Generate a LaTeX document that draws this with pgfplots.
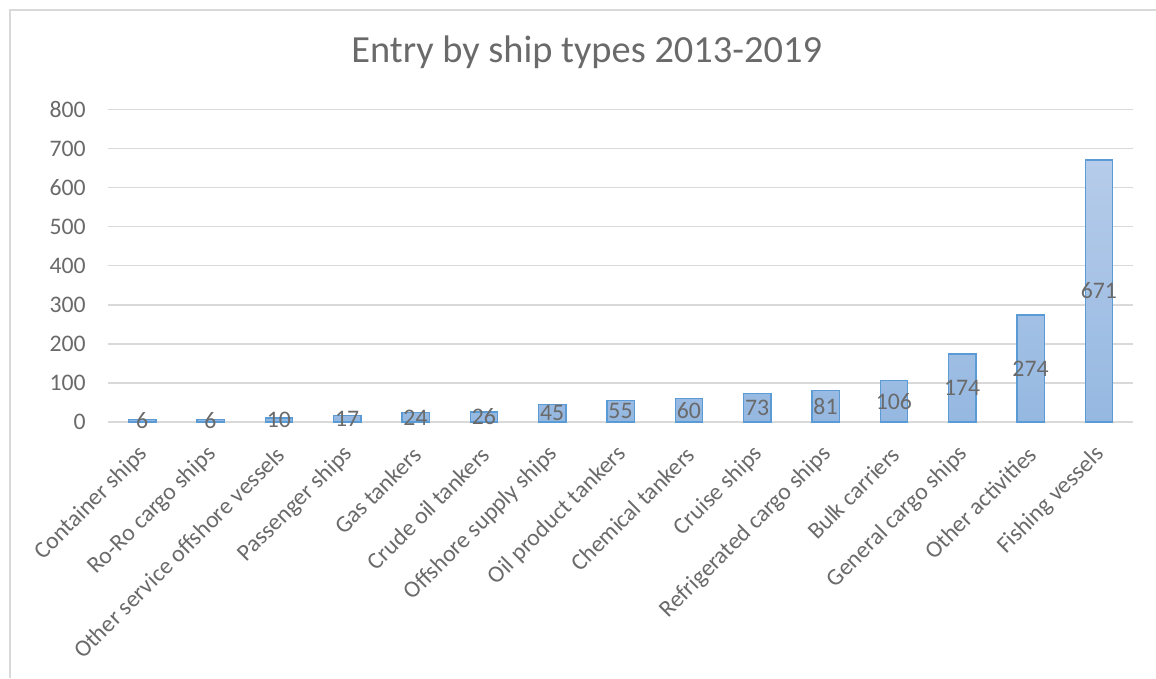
\documentclass[border=0pt]{standalone}
\usepackage{pgfplots}
\pgfplotsset{compat=1.18}
\usepackage{fontspec}
\setmainfont{Carlito}
\definecolor{txtgray}{HTML}{6A6A6A}
\definecolor{gridgray}{HTML}{D9D9D9}
\definecolor{barborder}{HTML}{5B9BD5}
\definecolor{bartop}{RGB}{182,204,234}
\definecolor{barbot}{RGB}{149,184,225}
\begin{document}
\begin{tikzpicture}
\useasboundingbox (0,0) rectangle (867pt,508.5pt);
\draw[gridgray, line width=1.1pt] (7.5pt,0) -- (7.5pt,501pt) -- (870pt,501pt);
\node[anchor=base, text=txtgray, font=\fontsize{28.8}{34}\selectfont, inner sep=0pt] at (440pt,461.25pt) {Entry by ship types 2013-2019};
\begin{axis}[
  at={(81pt,192pt)}, anchor=south west,
  scale only axis, width=768.75pt, height=234.4pt,
  xmin=-0.5, xmax=14.5, ymin=0, ymax=800,
  ytick={0,100,...,800},
  xtick={0,...,14},
  xticklabels={Container ships,Ro-Ro cargo ships,Other service offshore vessels,Passenger ships,Gas tankers,Crude oil tankers,Offshore supply ships,Oil product tankers,Chemical tankers,Cruise ships,Refrigerated cargo ships,Bulk carriers,General cargo ships,Other activities,Fishing vessels},
  /pgf/number format/assume math mode=true,
  ticklabel style={font=\fontsize{17.8}{20}\selectfont, text=txtgray},
  yticklabel style={anchor=east, inner sep=0pt, xshift=-16.5pt},
  xticklabel style={inner sep=0pt, xshift=1.5pt, yshift=-21.5pt, rotate=45, anchor=east},
  major tick length=0pt,
  ymajorgrids, grid style={gridgray, line width=1.1pt},
  axis x line*=bottom, axis y line*=left,
  x axis line style={gridgray, line width=1.1pt, -},
  y axis line style={draw=none},
  clip=false,
]
\addplot[ybar, bar width=20.5pt, draw=barborder, line width=1pt, top color=bartop, bottom color=barbot] table[x=x,y=v] {
x v
0 6
1 6
2 10
3 17
4 24
5 26
6 45
7 55
8 60
9 73
10 81
11 106
12 174
13 274
14 671
};
\addplot[only marks, mark=none, nodes near coords, point meta=explicit symbolic,
  nodes near coords style={anchor=center, inner sep=0pt, font=\fontsize{17.8}{20}\selectfont, text=txtgray}]
  table[x=x, y expr=\thisrow{v}/2, meta=v] {
x v
0 6
1 6
2 10
3 17
4 24
5 26
6 45
7 55
8 60
9 73
10 81
11 106
12 174
13 274
14 671
};
\end{axis}
\end{tikzpicture}
\end{document}
